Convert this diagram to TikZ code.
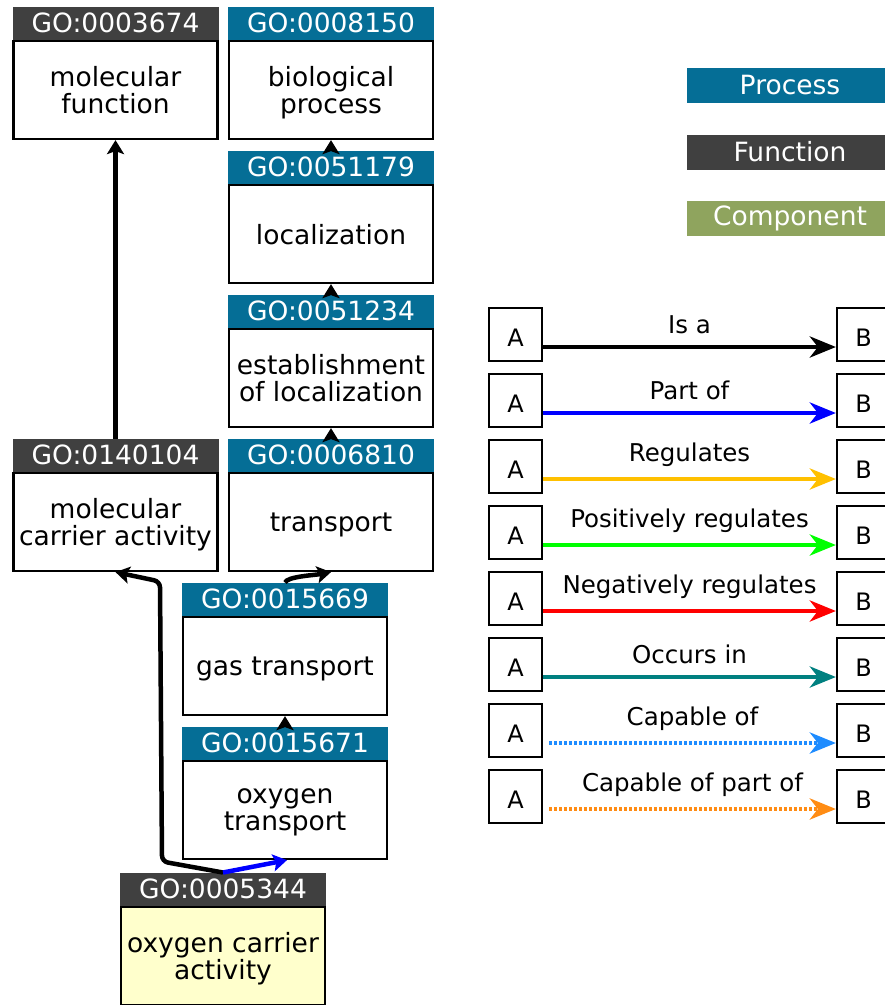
\documentclass[tikz,border=0pt]{standalone}
\usepackage{fontspec}
\setmainfont{DejaVu Sans}
\usepackage{tikz}
\usetikzlibrary{arrows.meta,calc,positioning}

\definecolor{procblue}{HTML}{056E96}
\definecolor{funcgray}{HTML}{404040}
\definecolor{compgreen}{HTML}{8FA45E}
\definecolor{termyellow}{HTML}{FFFFCC}
\definecolor{reggold}{HTML}{FFC000}
\definecolor{occteal}{HTML}{008080}
\definecolor{capblue}{HTML}{1E8CFF}
\definecolor{capporange}{HTML}{FF8C14}

\begin{document}
\begin{tikzpicture}[
    x=1pt, y=-1pt,
    term/.style={draw=black, line width=2.2pt, fill=white, minimum width=204pt, minimum height=98pt,
      inner sep=0pt, align=center, text depth=0pt, font=\fontsize{26.5}{27}\selectfont},
    hdr/.style={fill=#1, text=white, minimum width=206pt, minimum height=33pt, inner sep=0pt,
      font=\fontsize{26.5}{27}\selectfont},
    key/.style={fill=#1, text=white, minimum width=206pt, minimum height=35pt, inner sep=0pt,
      font=\fontsize{26.5}{27}\selectfont},
    ab/.style={draw=black, line width=2.2pt, fill=white, minimum width=53pt, minimum height=53pt,
      inner sep=0pt, text height=24pt, font=\fontsize{24}{26}\selectfont},
    isa/.style={-{Stealth[length=14pt,width=17pt,inset=3pt]}, line width=4.5pt, draw=#1},
    isa/.default=black,
    rel/.style={-{Stealth[length=26pt,width=21pt,inset=8pt]}, line width=4.8pt, draw=#1},
    dotrel/.style={rel=#1, dash pattern=on 3pt off 2pt},
    lbl/.style={midway, above=7pt, font=\fontsize{24.5}{26}\selectfont},
  ]
    \useasboundingbox (0,0) rectangle (885,1005);

    % GO terms
    \node[term] (mfunc) at (115.5,90) {molecular\\function};
    \node[hdr=funcgray, above=0pt of mfunc] (mfunch) {GO:0003674};

    \node[term] (bproc) at (331,90) {biological\\process};
    \node[hdr=procblue, above=0pt of bproc] (bproch) {GO:0008150};

    \node[term] (loc) at (331,234) {localization};
    \node[hdr=procblue, above=0pt of loc] (loch) {GO:0051179};

    \node[term] (estab) at (331,378) {establishment\\of localization};
    \node[hdr=procblue, above=0pt of estab] (estabh) {GO:0051234};

    \node[term] (mcarr) at (115.5,522) {molecular\\carrier activity};
    \node[hdr=funcgray, above=0pt of mcarr] (mcarrh) {GO:0140104};

    \node[term] (transp) at (331,522) {transport};
    \node[hdr=procblue, above=0pt of transp] (transph) {GO:0006810};

    \node[term] (gas) at (285,666) {gas transport};
    \node[hdr=procblue, above=0pt of gas] (gash) {GO:0015669};

    \node[term] (oxtr) at (285,810) {oxygen\\transport};
    \node[hdr=procblue, above=0pt of oxtr] (oxtrh) {GO:0015671};

    \node[term, fill=termyellow] (ocarr) at (223,956) {oxygen carrier\\activity};
    \node[hdr=funcgray, above=0pt of ocarr] (ocarrh) {GO:0005344};

    % graph edges
    \draw[isa] (loch.north) -- (bproc.south);
    \draw[isa] (estabh.north) -- (loc.south);
    \draw[isa] (transph.north) -- (estab.south);
    \draw[isa] (mcarrh.north) -- (mfunc.south);
    \draw[isa] (oxtrh.north) -- (gas.south);
    \draw[isa] (gash.north) .. controls +(2,-6) and +(-16,3) .. (transp.south);
    \draw[isa, rounded corners=6pt] (ocarrh.north) -- ++(-61,-11) -- ++(-2,-280) -- (mcarr.south);
    \draw[isa=blue] (ocarrh.north) -- ([xshift=2pt]oxtr.south);

    % aspect key
    \node[key=procblue] (kproc) at (790,85.5) {Process};
    \node[key=funcgray] (kfunc) at (790,152) {Function};
    \node[key=compgreen] (kcomp) at (790,218) {Component};

    % relation key
    \node[ab] (isaA) at (515.5,334.5) {A};
    \node[ab] (isaB) at (863.5,334.5) {B};
    \draw[rel=black] ([yshift=-12.5pt]isaA.east) -- ([yshift=-12.5pt]isaB.west) node[lbl] {Is a};

    \node[ab] (partA) at (515.5,400.5) {A};
    \node[ab] (partB) at (863.5,400.5) {B};
    \draw[rel=blue] ([yshift=-12.5pt]partA.east) -- ([yshift=-12.5pt]partB.west) node[lbl] {Part of};

    \node[ab] (regA) at (515.5,466.5) {A};
    \node[ab] (regB) at (863.5,466.5) {B};
    \draw[rel=reggold] ([yshift=-12.5pt]regA.east) -- ([yshift=-12.5pt]regB.west) node[lbl] {Regulates};

    \node[ab] (posA) at (515.5,532.5) {A};
    \node[ab] (posB) at (863.5,532.5) {B};
    \draw[rel=green] ([yshift=-12.5pt]posA.east) -- ([yshift=-12.5pt]posB.west) node[lbl] {Positively regulates};

    \node[ab] (negA) at (515.5,598.5) {A};
    \node[ab] (negB) at (863.5,598.5) {B};
    \draw[rel=red] ([yshift=-12.5pt]negA.east) -- ([yshift=-12.5pt]negB.west) node[lbl] {Negatively regulates};

    \node[ab] (occA) at (515.5,664.5) {A};
    \node[ab] (occB) at (863.5,664.5) {B};
    \draw[rel=occteal] ([yshift=-12.5pt]occA.east) -- ([yshift=-12.5pt]occB.west) node[lbl] {Occurs in};

    \node[ab] (capA) at (515.5,730.5) {A};
    \node[ab] (capB) at (863.5,730.5) {B};
    \draw[dotrel=capblue] ([xshift=6pt,yshift=-12.5pt]capA.east) -- ([yshift=-12.5pt]capB.west) node[lbl] {Capable of};

    \node[ab] (cappA) at (515.5,796.5) {A};
    \node[ab] (cappB) at (863.5,796.5) {B};
    \draw[dotrel=capporange] ([xshift=6pt,yshift=-12.5pt]cappA.east) -- ([yshift=-12.5pt]cappB.west) node[lbl] {Capable of part of};
  \end{tikzpicture}
\end{document}
